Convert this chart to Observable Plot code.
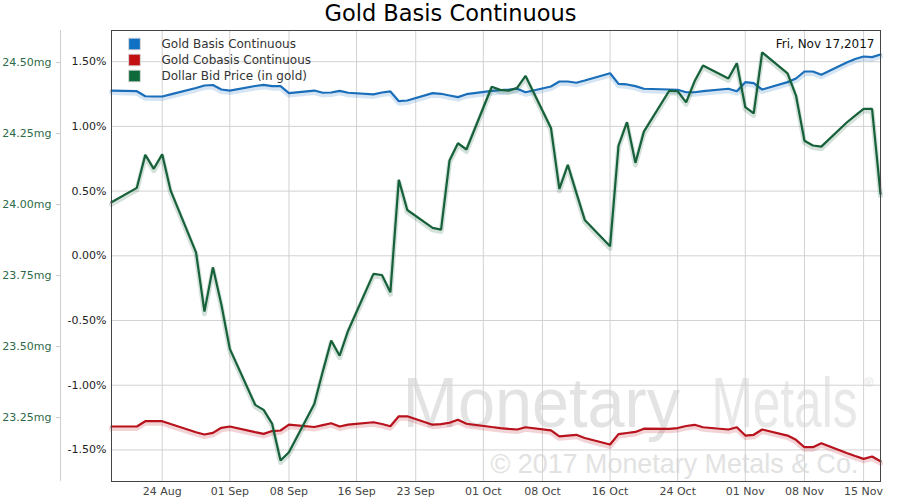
<!DOCTYPE html>
<html>
<head>
<meta charset="utf-8">
<script src="https://cdn.jsdelivr.net/npm/d3@7"></script>
<script src="https://cdn.jsdelivr.net/npm/@observablehq/plot@0.6"></script>
<style>
  html, body { margin: 0; padding: 0; background: #fff; }
  #chart svg { display: block; }
</style>
</head>
<body>
<div id="chart"></div>
<script>
// ---------- DATA ----------
const dates = [
  "2017-08-18","2017-08-21","2017-08-22","2017-08-23","2017-08-24","2017-08-25","2017-08-28","2017-08-29","2017-08-30","2017-08-31",
  "2017-09-01","2017-09-04","2017-09-05","2017-09-06","2017-09-07","2017-09-08","2017-09-11","2017-09-12","2017-09-13","2017-09-14","2017-09-15",
  "2017-09-18","2017-09-19","2017-09-20","2017-09-21","2017-09-22","2017-09-25","2017-09-26","2017-09-27","2017-09-28","2017-09-29",
  "2017-10-02","2017-10-03","2017-10-04","2017-10-05","2017-10-06","2017-10-09","2017-10-10","2017-10-11","2017-10-12","2017-10-13",
  "2017-10-16","2017-10-17","2017-10-18","2017-10-19","2017-10-20","2017-10-23","2017-10-24","2017-10-25","2017-10-26","2017-10-27",
  "2017-10-30","2017-10-31","2017-11-01","2017-11-02","2017-11-03","2017-11-06","2017-11-07","2017-11-08","2017-11-09","2017-11-10",
  "2017-11-13","2017-11-14","2017-11-15","2017-11-16","2017-11-17"
];
// Gold Basis Continuous (%)
const basis = [
  1.277,1.272,1.233,1.231,1.231,1.247,1.297,1.316,1.320,1.285,
  1.277,1.312,1.321,1.311,1.311,1.257,1.277,1.260,1.262,1.275,1.260,
  1.247,1.262,1.270,1.195,1.200,1.257,1.252,1.239,1.226,1.249,
  1.274,1.280,1.285,1.291,1.264,1.308,1.347,1.347,1.337,1.355,
  1.411,1.329,1.324,1.311,1.291,1.285,1.283,1.264,1.264,1.272,
  1.291,1.272,1.342,1.334,1.285,1.342,1.370,1.424,1.424,1.399,
  1.494,1.521,1.540,1.535,1.556
];
// Gold Cobasis Continuous (%)
const cobasis = [
  -1.319,-1.319,-1.278,-1.278,-1.278,-1.300,-1.363,-1.381,-1.368,-1.329,
  -1.319,-1.362,-1.376,-1.354,-1.350,-1.305,-1.323,-1.308,-1.294,-1.319,-1.304,
  -1.286,-1.300,-1.317,-1.240,-1.240,-1.305,-1.300,-1.290,-1.267,-1.298,
  -1.323,-1.331,-1.338,-1.342,-1.325,-1.349,-1.395,-1.389,-1.383,-1.408,
  -1.458,-1.378,-1.369,-1.361,-1.336,-1.337,-1.331,-1.315,-1.306,-1.325,
  -1.342,-1.325,-1.389,-1.383,-1.342,-1.389,-1.422,-1.479,-1.479,-1.448,
  -1.524,-1.547,-1.569,-1.551,-1.587
];
// Dollar Bid Price (in gold), mg
const bidMg = [
  24.008,24.059,24.175,24.126,24.177,24.049,23.832,23.623,23.779,23.648,
  23.492,23.295,23.277,23.229,23.099,23.128,23.298,23.412,23.521,23.468,23.556,
  23.756,23.752,23.691,24.087,23.981,23.918,23.912,24.155,24.216,24.194,
  24.415,24.404,24.401,24.411,24.453,24.270,24.055,24.140,24.042,23.946,
  23.853,24.208,24.290,24.147,24.257,24.401,24.399,24.360,24.434,24.490,
  24.444,24.498,24.343,24.321,24.536,24.462,24.384,24.225,24.208,24.204,
  24.289,24.313,24.337,24.337,24.038
];

const seriesNames = ["Gold Basis Continuous", "Gold Cobasis Continuous", "Dollar Bid Price (in gold)"];
const seriesKeys = ["basis", "cobasis", "bid"];
const seriesColors = ["#1b6fba", "#b8121c", "#16613a"];
const legendColors = ["#0f70c4", "#c20f12", "#0e6a3a"];

const pctTicks = [-1.5, -1.0, -0.5, 0, 0.5, 1.0, 1.5];
const mgTicks = [23.25, 23.5, 23.75, 24.0, 24.25, 24.5];
const dateTicks = ["2017-08-24","2017-09-01","2017-09-08","2017-09-16","2017-09-23","2017-10-01",
                   "2017-10-08","2017-10-16","2017-10-24","2017-11-01","2017-11-08","2017-11-15"];
const xDomain = ["2017-08-18", "2017-11-17"];
const pctDomain = [-1.744, 1.741];
const mgDomain = [23.025, 24.613];
const titleText = "Gold Basis Continuous";
const dateNote = "Fri, Nov 17,2017";

// ---------- BUILD ----------
const toDate = s => new Date(s + "T00:00:00Z");
const mgToPct = v => pctDomain[0] + (v - mgDomain[0]) / (mgDomain[1] - mgDomain[0]) * (pctDomain[1] - pctDomain[0]);
const pctToMg = p => mgDomain[0] + (p - pctDomain[0]) / (pctDomain[1] - pctDomain[0]) * (mgDomain[1] - mgDomain[0]);

const rows = dates.map((d, i) => ({
  date: toDate(d),
  basis: basis[i],
  cobasis: cobasis[i],
  bid: mgToPct(bidMg[i])
}));

const lineMarks = seriesKeys.flatMap((k, i) => [
  Plot.line(rows, {x: "date", y: k, stroke: seriesColors[i], strokeWidth: 5, strokeOpacity: 0.18, dy: 2}),
  Plot.line(rows, {x: "date", y: k, stroke: seriesColors[i], strokeWidth: 2.2, strokeLinejoin: "miter"})
]);

const legendMarks = seriesNames.flatMap((name, i) => [
  Plot.dot([name], {frameAnchor: "top-left", dx: 23, dy: 13.5 + 16 * i, symbol: "square", r: 6.6,
                    fill: legendColors[i], stroke: "#d8d8d8", strokeWidth: 1}),
  Plot.text([name], {frameAnchor: "top-left", dx: 50, dy: 13.5 + 16 * i, text: d => d,
                     textAnchor: "start", lineAnchor: "middle", fontSize: 12, fill: "#333"})
]);

const wmFont = "'Liberation Sans', Arial, sans-serif";

const chart = Plot.plot({
  width: 900,
  height: 500,
  marginLeft: 111,
  marginRight: 20,
  marginTop: 30,
  marginBottom: 19,
  x: {type: "utc", domain: xDomain.map(toDate)},
  y: {domain: pctDomain},
  style: {fontFamily: "'DejaVu Sans', sans-serif", fontSize: "11px", background: "#fff", color: "#222"},
  marks: [
    // watermark
    Plot.text(["Monetary"], {frameAnchor: "top-left", dx: 291, dy: 396, lineAnchor: "bottom", textAnchor: "start",
      text: d => d, fontSize: 71, fontFamily: wmFont, fill: "#e3e3e3", className: "wm-monetary"}),
    Plot.text(["Metals"], {frameAnchor: "top-left", dx: 600, dy: 396, lineAnchor: "bottom", textAnchor: "start",
      text: d => d, fontSize: 71, fontWeight: 300, fontFamily: wmFont, fill: "#e8e8e8", className: "wm-metals"}),
    Plot.text(["®"], {frameAnchor: "top-left", dx: 753, dy: 356, lineAnchor: "bottom", textAnchor: "start",
      text: d => d, fontSize: 12, fontFamily: wmFont, fill: "#e3e3e3"}),
    Plot.text(["© 2017 Monetary Metals & Co."], {frameAnchor: "top-left", dx: 379, dy: 442, lineAnchor: "bottom", textAnchor: "start",
      text: d => d, fontSize: 27, fontFamily: wmFont, fill: "#e2e2e2", className: "wm-copy"}),
    // grids
    Plot.gridY({ticks: pctTicks, stroke: "#d2d2d2", strokeOpacity: 1}),
    Plot.gridX({ticks: dateTicks.map(toDate), stroke: "#d2d2d2", strokeOpacity: 1}),
    // mg axis line
    Plot.ruleX([toDate(xDomain[0])], {dx: -51, stroke: "#cfcfcf"}),
    // axes
    Plot.axisX({ticks: dateTicks.map(toDate), tickFormat: d3.utcFormat("%d %b"), tickSize: 0, tickPadding: 6,
                label: null, fill: "#444", fontSize: 11}),
    Plot.axisY({ticks: pctTicks, tickFormat: d => d.toFixed(2) + "%", tickSize: 0, tickPadding: 5,
                label: null, fill: "#222", fontSize: 11}),
    Plot.axisY({ticks: mgTicks.map(mgToPct), tickFormat: d => pctToMg(d).toFixed(2) + "mg", tickSize: 4, tickPadding: 5,
                dx: -51, label: null, fill: "#2c6a49", stroke: "#c8c8c8", fontSize: 11}),
    // lines
    ...lineMarks,
    // frame
    Plot.frame({stroke: "#444", strokeWidth: 1}),
    // legend and notes
    ...legendMarks,
    Plot.text([dateNote], {frameAnchor: "top-right", dx: -6, dy: 13.5, text: d => d, textAnchor: "end",
                           lineAnchor: "middle", fontSize: 12, fill: "#111"}),
    Plot.text([titleText], {frameAnchor: "top", dx: -45.5, dy: -10, text: d => d, lineAnchor: "bottom",
                            fontSize: 22.5, fill: "#000"})
  ]
});

document.getElementById("chart").appendChild(chart);

// squeeze watermark words horizontally to the widths they have in the reference
function squeeze(cls, width) {
  d3.select(chart).selectAll(cls + " text").each(function () {
    const bb = this.getBBox();
    if (!bb.width) return;
    const s = width / bb.width;
    const t = this.getAttribute("transform") || "";
    this.setAttribute("transform", `${t} translate(${bb.x},0) scale(${s},1) translate(${-bb.x},0)`);
  });
}
squeeze(".wm-monetary", 278);
squeeze(".wm-metals", 146);
squeeze(".wm-copy", 368);
</script>
</body>
</html>
